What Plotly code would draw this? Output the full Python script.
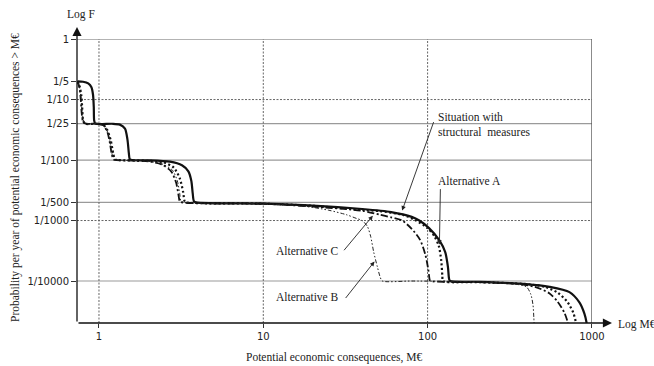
import math
import plotly.graph_objects as go

# ---- data: exceedance curves (consequence in M€, annual probability) ----
# Situation with structural measures
base_x = [0.74, 0.80, 0.86, 0.90, 0.92, 0.93, 0.935, 0.95,
          1.2, 1.34, 1.44, 1.49, 1.52, 1.54, 1.6,
          2.0, 2.7, 3.2, 3.5, 3.65, 3.72, 3.78, 3.9,
          10, 20, 40, 60, 80, 89, 102, 118, 128, 133, 135, 137,
          200, 400, 552, 730, 839, 900, 926, 930]
base_y = [0.20, 0.197, 0.185, 0.16, 0.12, 0.075, 0.045, 0.040,
          0.0398, 0.0385, 0.033, 0.022, 0.013, 0.0103, 0.0100,
          0.0099, 0.0094, 0.0082, 0.0065, 0.0045, 0.0028, 0.0021, 0.0020,
          0.0019, 0.00177, 0.00155, 0.00138, 0.00115, 0.0010, 0.00075, 0.00047, 0.00030, 0.00017, 0.00011, 0.0001,
          0.000097, 0.000089, 0.00008, 0.0000656, 0.0000444, 0.000029, 0.000021, 0.000019]

# Alternative A
alt_a_x = [0.74, 0.76, 0.78, 0.79, 0.80, 0.82,
           1.0, 1.06, 1.12, 1.18, 1.22, 1.25, 1.3,
           2.0, 2.45, 2.85, 3.1, 3.25, 3.32, 3.4,
           10, 20, 40, 51, 70, 85, 100, 110, 117, 121, 123, 124,
           200, 400, 520, 620, 710, 770, 795, 802]
alt_a_y = [0.20, 0.17, 0.12, 0.075, 0.046, 0.040,
           0.0398, 0.0385, 0.032, 0.021, 0.013, 0.0103, 0.0100,
           0.0097, 0.0092, 0.0075, 0.0050, 0.0030, 0.0021, 0.0020,
           0.0019, 0.00175, 0.0015, 0.00143, 0.00125, 0.0010, 0.00075, 0.00055, 0.00038, 0.00022, 0.00012, 0.0001,
           0.000096, 0.000089, 0.00008, 0.000064, 0.000045, 0.00003, 0.000022, 0.000019]

# Alternative B
alt_b_x = [0.74, 0.76, 0.78, 0.79, 0.81, 0.84,
           1.0, 1.08, 1.14, 1.18, 1.21, 1.24, 1.3,
           2.0, 2.4, 2.8, 3.0, 3.1, 3.15, 3.25,
           10, 18, 25, 32, 37, 40, 43, 45, 47, 49.5, 51.5, 53,
           80, 200, 330, 400, 425, 438, 443, 445]
alt_b_y = [0.20, 0.16, 0.10, 0.06, 0.043, 0.040,
           0.0397, 0.036, 0.027, 0.017, 0.0115, 0.0102, 0.0100,
           0.0095, 0.0087, 0.0068, 0.0045, 0.0028, 0.0021, 0.0020,
           0.0019, 0.00172, 0.00148, 0.00125, 0.00108, 0.0010, 0.0008, 0.00055, 0.0003, 0.00017, 0.000115, 0.0001,
           0.0001, 0.000097, 0.00009, 0.00008, 0.00006, 0.00004, 0.000025, 0.000019]

# Alternative C
alt_c_x = [0.74, 0.76, 0.775, 0.785, 0.80, 0.83,
           1.0, 1.07, 1.13, 1.17, 1.2, 1.23, 1.28,
           2.0, 2.4, 2.75, 2.95, 3.05, 3.1, 3.2,
           10, 20, 40, 51, 60, 70, 80, 90, 97, 101, 103, 104,
           200, 350, 450, 550, 620, 680, 708, 716]
alt_c_y = [0.20, 0.16, 0.10, 0.06, 0.043, 0.040,
           0.0397, 0.037, 0.028, 0.018, 0.012, 0.0102, 0.0100,
           0.0095, 0.0085, 0.0065, 0.0042, 0.0026, 0.0021, 0.0020,
           0.0019, 0.0017, 0.00145, 0.00125, 0.00113, 0.0010, 0.00073, 0.00048, 0.00027, 0.000154, 0.000104, 0.0001,
           0.000096, 0.00009, 0.00008, 0.000063, 0.000045, 0.00003, 0.000022, 0.000019]

# ---- axes ----
x_tick_vals = [1, 10, 100, 1000]
x_tick_text = ["1", "10", "100", "1000"]
y_tick_vals = [1, 1 / 5, 1 / 10, 1 / 25, 1 / 100, 1 / 500, 1 / 1000, 1 / 10000]
y_tick_text = ["1", "1/5", "1/10", "1/25", "1/100", "1/500", "1/1000", "1/10000"]
solid_grid_y = [1, 1 / 25, 1 / 100, 1 / 500, 1 / 10000]
dotted_grid_y = [1 / 10, 1 / 1000]
dotted_grid_x = [1, 10, 100]

W, H = 654, 366
L, R, T, B = 77, 592, 39, 323   # plot-area edges in pixels
SERIF = "Liberation Serif, Times New Roman, serif"
SANS = "DejaVu Sans, Verdana, sans-serif"


def px(x):
    return (x - L) / (R - L)


def py(y):
    return (B - y) / (B - T)


fig = go.Figure()

curves = [
    (base_x, base_y, dict(color="#111", width=2.2, dash="solid")),
    (alt_a_x, alt_a_y, dict(color="#111", width=2.2, dash="2px,2.5px")),
    (alt_c_x, alt_c_y, dict(color="#111", width=1.8, dash="7px,2.5px,2px,2.5px")),
    (alt_b_x, alt_b_y, dict(color="#222", width=1.0, dash="4px,2px,1.5px,2px,1.5px,2px")),
]
for xs, ys, ln in curves:
    fig.add_trace(go.Scatter(x=xs, y=ys, mode="lines",
                             line=dict(shape="spline", smoothing=0.7, **ln),
                             hoverinfo="skip"))

shapes = []
for v in solid_grid_y:
    shapes.append(dict(type="line", xref="paper", yref="y", x0=0, x1=1, y0=v, y1=v,
                       line=dict(color="#9a9a9a", width=1.2), layer="below"))
for v in dotted_grid_y:
    shapes.append(dict(type="line", xref="paper", yref="y", x0=0, x1=1, y0=v, y1=v,
                       line=dict(color="#666", width=1, dash="2px,1.5px"), layer="below"))
for v in dotted_grid_x:
    shapes.append(dict(type="line", xref="x", yref="paper", x0=v, x1=v, y0=0, y1=1,
                       line=dict(color="#666", width=1, dash="2px,1.5px"), layer="below"))
# right border at 1000
shapes.append(dict(type="line", xref="x", yref="paper", x0=1000, x1=1000, y0=0, y1=1,
                   line=dict(color="#555", width=1.2), layer="below"))

annotations = []
# axis arrows
annotations.append(dict(xref="paper", yref="paper", x=0, y=py(27), ax=0, ay=296,
                        axref="pixel", ayref="pixel", text="", showarrow=True,
                        arrowhead=2, arrowsize=1.4, arrowwidth=1.3, arrowcolor="#111"))
annotations.append(dict(xref="paper", yref="paper", x=px(612), y=0, ax=-535, ay=0,
                        axref="pixel", ayref="pixel", text="", showarrow=True,
                        arrowhead=2, arrowsize=1.4, arrowwidth=1.3, arrowcolor="#111"))

txt = dict(family=SERIF, size=11.5, color="#222")
annotations += [
    dict(xref="paper", yref="paper", x=px(81), y=py(15), text="Log F", showarrow=False,
         font=txt, xanchor="center", yanchor="middle"),
    dict(xref="paper", yref="paper", x=px(616), y=py(324), text="Log M€", showarrow=False,
         font=txt, xanchor="left", yanchor="middle"),
    dict(xref="paper", yref="paper", x=px(334), y=py(357),
         text="Potential economic consequences, M€", showarrow=False,
         font=txt, xanchor="center", yanchor="middle"),
    dict(xref="paper", yref="paper", x=px(15), y=py(178), textangle=-90,
         text="Probability per year of potential economic consequences > M€",
         showarrow=False, font=txt, xanchor="center", yanchor="middle"),
    dict(xref="paper", yref="paper", x=px(436), y=py(124.5),
         text="Situation with<br>structural\u00a0 measures", showarrow=False,
         font=txt, xanchor="left", yanchor="middle", align="left"),
    dict(xref="paper", yref="paper", x=px(436), y=py(181), text="Alternative A",
         showarrow=False, font=txt, xanchor="left", yanchor="middle"),
    dict(xref="paper", yref="paper", x=px(341), y=py(251), text="Alternative C",
         showarrow=False, font=txt, xanchor="right", yanchor="middle"),
    dict(xref="paper", yref="paper", x=px(341), y=py(297), text="Alternative B",
         showarrow=False, font=txt, xanchor="right", yanchor="middle"),
]

# pointer arrows from labels to curves (tip in data units, tail offset in pixels)
pointers = [
    (70, 0.00146, 32, -90),
    (118, 0.0004, 1, -57),
    (46.4, 0.0012, -30, 36),
    (47.5, 0.00021, -30, 38),
]
for xv, yv, axp, ayp in pointers:
    annotations.append(dict(xref="x", yref="y", x=math.log10(xv), y=math.log10(yv),
                            ax=axp, ay=ayp, axref="pixel", ayref="pixel", text="",
                            showarrow=True, arrowhead=2, arrowsize=1.0, arrowwidth=0.9,
                            arrowcolor="#222"))

fig.update_layout(
    width=W, height=H, autosize=False,
    margin=dict(l=L, r=W - R, t=T, b=H - B, pad=0),
    paper_bgcolor="white", plot_bgcolor="white",
    showlegend=False,
    shapes=shapes, annotations=annotations,
    xaxis=dict(type="log", range=[math.log10(0.735), 3.0005],
               tickvals=x_tick_vals, ticktext=x_tick_text,
               ticks="outside", ticklen=4, tickcolor="#333", tickwidth=1,
               tickfont=dict(family=SANS, size=10, color="#222"),
               showgrid=False, zeroline=False, showline=False),
    yaxis=dict(type="log", range=[-4.694, 0.001],
               tickvals=y_tick_vals, ticktext=y_tick_text,
               ticks="outside", ticklen=5, tickcolor="#333", tickwidth=1,
               tickfont=dict(family=SANS, size=10, color="#222"),
               showgrid=False, zeroline=False, showline=False),
)

fig.write_html("out.html")
